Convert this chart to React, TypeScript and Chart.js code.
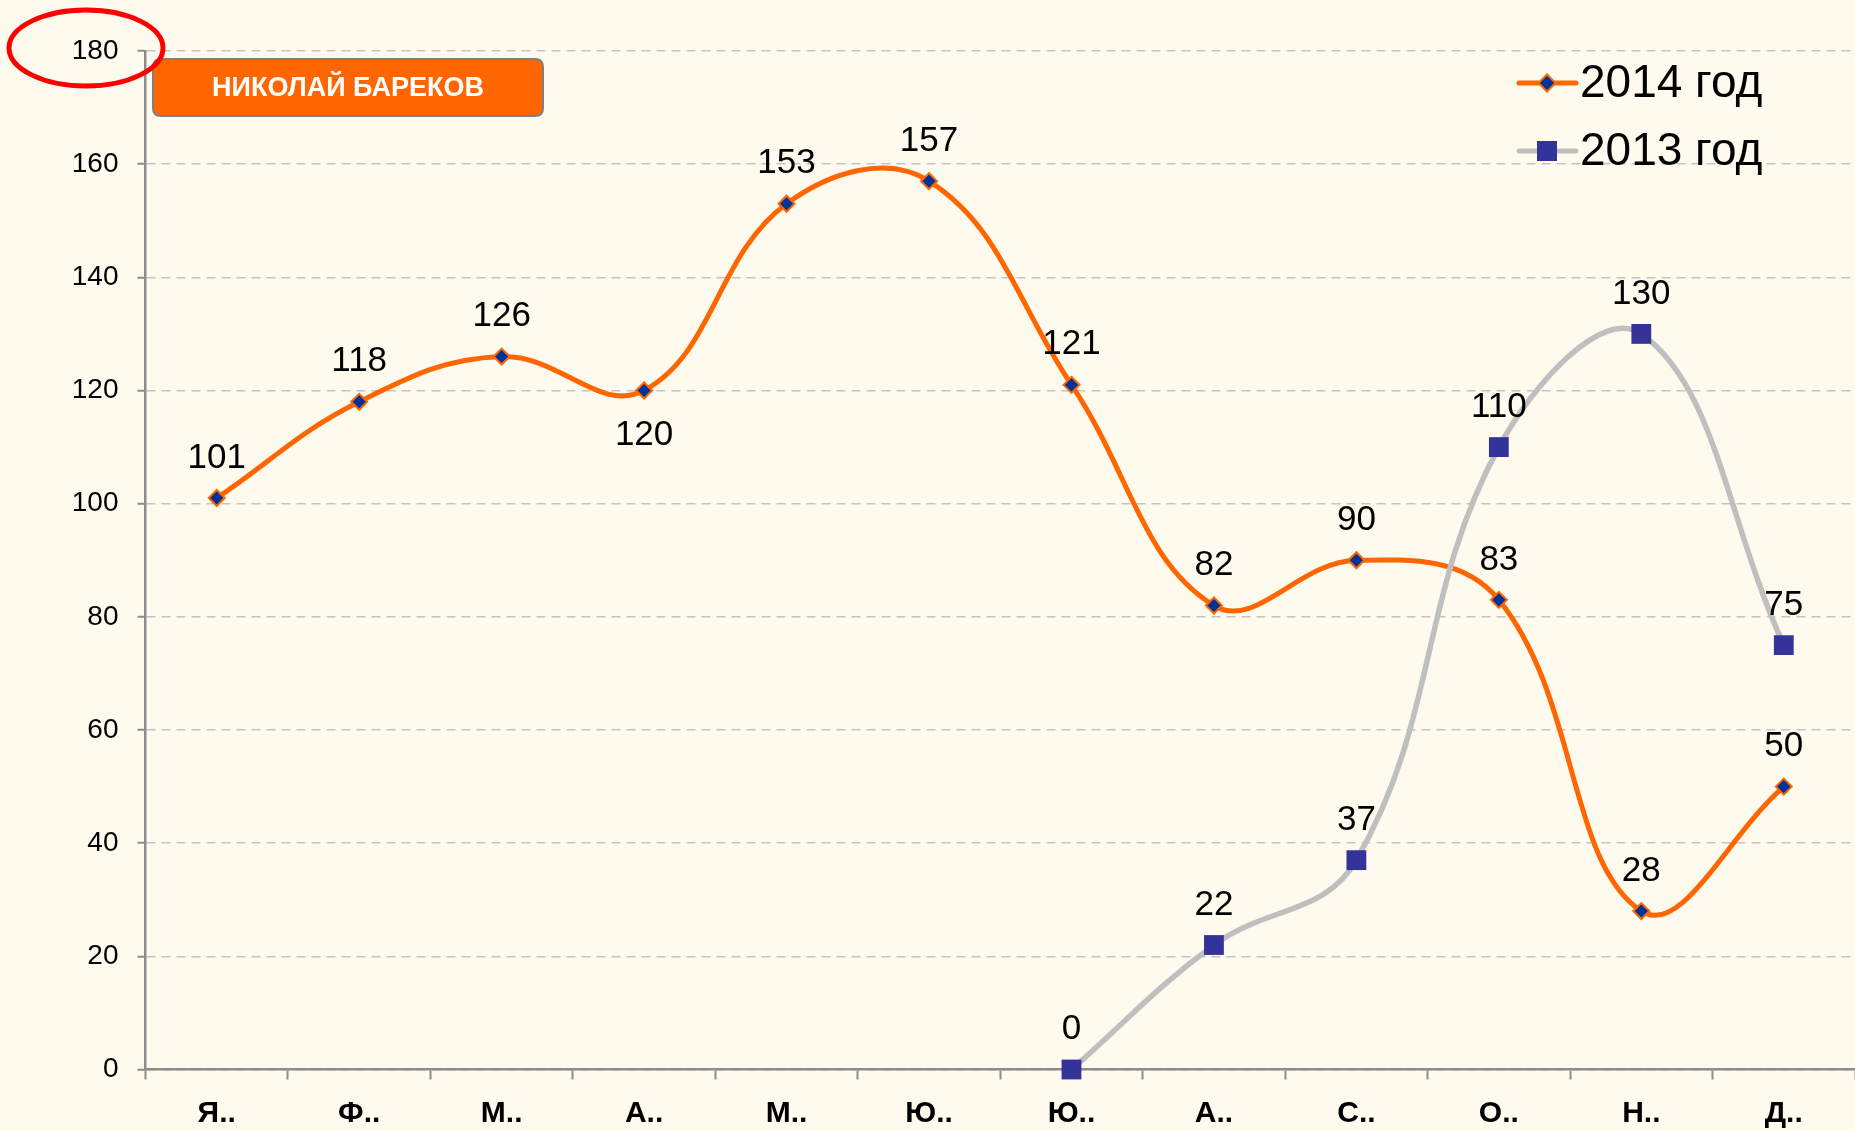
import React, { useEffect, useRef } from "react";
import { Chart, registerables } from "chart.js";

Chart.register(...registerables);

// ---- data ----
const months = ["Я..", "Ф..", "М..", "А..", "М..", "Ю..", "Ю..", "А..", "С..", "О..", "Н..", "Д.."];
const series2014 = [101, 118, 126, 120, 153, 157, 121, 82, 90, 83, 28, 50];
const series2013 = [null, null, null, null, null, null, 0, 22, 37, 110, 130, 75];
const seriesNames = ["2014 год", "2013 год"];
const yMin = 0;
const yMax = 180;
const yStep = 20;
const badgeText = "НИКОЛАЙ БАРЕКОВ";

// ---- styles ----
const W = 1855;
const H = 1131;
const BG = "#FEFAEE";
const ORANGE = "#FF6600";
const NAVY = "#003399";
const SQUARE = "#333399";
const GRAY_LINE = "#BFBFBF";
const AXIS = "#8C8C8C";
const FONT = '"Liberation Sans", Arial, sans-serif';

function roundRectPath(ctx: CanvasRenderingContext2D, x: number, y: number, w: number, h: number, r: number) {
  ctx.beginPath();
  ctx.moveTo(x + r, y);
  ctx.lineTo(x + w - r, y);
  ctx.quadraticCurveTo(x + w, y, x + w, y + r);
  ctx.lineTo(x + w, y + h - r);
  ctx.quadraticCurveTo(x + w, y + h, x + w - r, y + h);
  ctx.lineTo(x + r, y + h);
  ctx.quadraticCurveTo(x, y + h, x, y + h - r);
  ctx.lineTo(x, y + r);
  ctx.quadraticCurveTo(x, y, x + r, y);
  ctx.closePath();
}

const bgPlugin = {
  id: "bgFill",
  beforeDraw(chart: any) {
    const { ctx } = chart;
    ctx.save();
    ctx.fillStyle = BG;
    ctx.fillRect(0, 0, chart.width, chart.height);
    ctx.restore();
  },
};

const decorPlugin = {
  id: "decor",
  afterDraw(chart: any) {
    const { ctx } = chart;
    ctx.save();

    // data labels
    ctx.fillStyle = "#000";
    ctx.font = `35px ${FONT}`;
    ctx.textAlign = "center";
    ctx.textBaseline = "middle";
    chart.data.datasets.forEach((ds: any, i: number) => {
      const meta = chart.getDatasetMeta(i);
      meta.data.forEach((pt: any, j: number) => {
        const v = ds.data[j];
        if (v === null || v === undefined) return;
        const below = i === 0 && j === 3;
        ctx.fillText(String(v), pt.x, pt.y + (below ? 45 : -40));
      });
    });

    // legend
    const lx0 = 1519;
    const lx1 = 1576;
    const mx = 1547;
    const rows = [83, 151];
    ctx.lineCap = "round";
    ctx.strokeStyle = ORANGE;
    ctx.lineWidth = 5;
    ctx.beginPath();
    ctx.moveTo(lx0, rows[0]);
    ctx.lineTo(lx1, rows[0]);
    ctx.stroke();
    ctx.beginPath();
    const r = 8.5;
    ctx.moveTo(mx - r, rows[0]);
    ctx.lineTo(mx, rows[0] - r);
    ctx.lineTo(mx + r, rows[0]);
    ctx.lineTo(mx, rows[0] + r);
    ctx.closePath();
    ctx.fillStyle = NAVY;
    ctx.fill();
    ctx.lineWidth = 2;
    ctx.strokeStyle = ORANGE;
    ctx.stroke();
    ctx.strokeStyle = GRAY_LINE;
    ctx.lineWidth = 5;
    ctx.beginPath();
    ctx.moveTo(lx0, rows[1]);
    ctx.lineTo(lx1, rows[1]);
    ctx.stroke();
    ctx.fillStyle = SQUARE;
    ctx.fillRect(mx - 10, rows[1] - 10, 20, 20);

    ctx.fillStyle = "#000";
    ctx.font = `46px ${FONT}`;
    ctx.textAlign = "left";
    ctx.textBaseline = "middle";
    ctx.fillText(seriesNames[0], 1580, rows[0] + 1);
    ctx.fillText(seriesNames[1], 1580, rows[1] + 1);

    // badge
    roundRectPath(ctx, 153, 59, 390, 57, 8);
    ctx.fillStyle = ORANGE;
    ctx.fill();
    ctx.lineWidth = 2;
    ctx.strokeStyle = "#7F7F7F";
    ctx.stroke();
    ctx.fillStyle = "#FFFFFF";
    ctx.font = `bold 27px ${FONT}`;
    ctx.textAlign = "center";
    ctx.textBaseline = "middle";
    ctx.fillText(badgeText, 348, 89);

    // red ellipse
    ctx.beginPath();
    ctx.ellipse(86, 48, 77, 38, 0, 0, Math.PI * 2);
    ctx.strokeStyle = "#FF0000";
    ctx.lineWidth = 5;
    ctx.stroke();

    ctx.restore();
  },
};

export default function App() {
  const ref = useRef<HTMLCanvasElement | null>(null);

  useEffect(() => {
    document.body.style.margin = "0";
    document.body.style.background = BG;
    const canvas = ref.current;
    if (!canvas) return;
    const chart = new Chart(canvas, {
      type: "line",
      data: {
        labels: months,
        datasets: [
          {
            label: seriesNames[0],
            data: series2014,
            borderColor: ORANGE,
            borderWidth: 5,
            tension: 0.4,
            pointStyle: "rectRot",
            pointRadius: 8,
            pointBackgroundColor: NAVY,
            pointBorderColor: ORANGE,
            pointBorderWidth: 2,
            clip: false,
            order: 1,
          },
          {
            label: seriesNames[1],
            data: series2013,
            borderColor: GRAY_LINE,
            borderWidth: 5.5,
            tension: 0.4,
            pointStyle: "rect",
            pointRadius: 14,
            pointBackgroundColor: SQUARE,
            pointBorderColor: SQUARE,
            pointBorderWidth: 0,
            clip: false,
            order: 0,
          },
        ],
      },
      options: {
        responsive: false,
        animation: false,
        devicePixelRatio: 1,
        layout: { autoPadding: false, padding: { top: 51, left: 0, right: 0, bottom: 0 } },
        plugins: {
          legend: { display: false },
          tooltip: { enabled: false },
        },
        scales: {
          x: {
            offset: true,
            grid: {
              offset: true,
              drawOnChartArea: false,
              drawTicks: true,
              tickLength: 10,
              tickColor: AXIS,
              tickWidth: 2,
            },
            border: { display: true, color: AXIS, width: 2.5 },
            ticks: {
              color: "#000",
              font: { family: FONT, size: 30, weight: "bold" },
              padding: 16,
              maxRotation: 0,
              autoSkip: false,
            },
            afterFit(scale: any) {
              scale.height = 61.5;
              scale.paddingLeft = 0;
              scale.paddingRight = 0;
            },
          },
          y: {
            min: yMin,
            max: yMax,
            grid: {
              color: "#C4C4C4",
              lineWidth: 1.5,
              tickLength: 8,
              tickColor: AXIS,
              tickWidth: 2,
              tickBorderDash: [],
            },
            border: { display: true, color: AXIS, width: 2.5, dash: [9, 6] },
            ticks: {
              stepSize: yStep,
              color: "#000",
              font: { family: FONT, size: 28 },
              padding: 19,
            },
            afterFit(scale: any) {
              scale.width = 145.5;
            },
          },
        },
      } as any,
      plugins: [bgPlugin, decorPlugin],
    });
    return () => chart.destroy();
  }, []);

  return (
    <canvas
      ref={ref}
      width={W}
      height={H}
      style={{ display: "block", width: W, height: H }}
    />
  );
}
